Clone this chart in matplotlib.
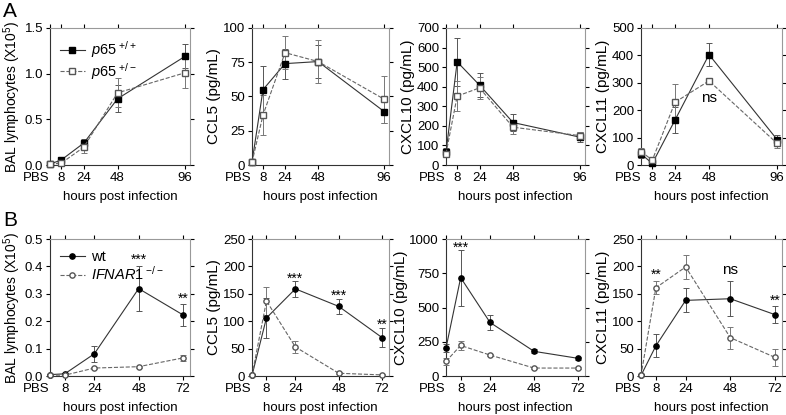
import matplotlib
matplotlib.use("Agg")
import matplotlib.pyplot as plt
from matplotlib.lines import Line2D
from matplotlib.ticker import FormatStrFormatter

plt.rcParams["font.family"] = ["Liberation Sans", "DejaVu Sans"]
plt.rcParams["mathtext.fontset"] = "custom"
plt.rcParams["mathtext.rm"] = "Liberation Sans"
plt.rcParams["mathtext.it"] = "Liberation Sans:italic"

# ---- data: row A (p65 +/+ vs p65 +/-) ----
hours_a = [0, 8, 24, 48, 96]
labels_a = ["PBS", "8", "24", "48", "96"]

bal_wt_a = [0.01, 0.055, 0.24, 0.725, 1.19]
bal_wt_a_err = [0.005, 0.015, 0.04, 0.15, 0.13]
bal_het_a = [0.01, 0.02, 0.195, 0.79, 1.01]
bal_het_a_err = [0.005, 0.01, 0.065, 0.16, 0.17]

ccl5_wt_a = [2, 55, 74, 75.5, 39]
ccl5_wt_a_err = [1, 17, 11, 12, 8]
ccl5_het_a = [2, 36.5, 82, 75.5, 48]
ccl5_het_a_err = [1, 14.5, 12, 16, 17]

cxcl10_wt_a = [65, 527, 408, 217, 142]
cxcl10_wt_a_err = [20, 121, 60, 45, 25]
cxcl10_het_a = [58, 352, 394, 193, 150]
cxcl10_het_a_err = [15, 78, 55, 35, 20]

cxcl11_wt_a = [40, 6, 164, 403, 93]
cxcl11_wt_a_err = [15, 5, 49, 42, 16]
cxcl11_het_a = [49, 18, 229, 307, 79]
cxcl11_het_a_err = [12, 6, 65, 11, 17]

# ---- data: row B (wt vs IFNAR1 -/-) ----
hours_b = [0, 8, 24, 48, 72]
labels_b = ["PBS", "8", "24", "48", "72"]

bal_wt_b = [0.005, 0.008, 0.081, 0.319, 0.223]
bal_wt_b_err = [0.002, 0.003, 0.029, 0.083, 0.041]
bal_ko_b = [0.003, 0.003, 0.029, 0.034, 0.066]
bal_ko_b_err = [0.001, 0.001, 0.004, 0.004, 0.012]

ccl5_wt_b = [1, 106, 159, 127, 70]
ccl5_wt_b_err = [1, 36, 15, 14, 17]
ccl5_ko_b = [1, 137, 53, 5, 2]
ccl5_ko_b_err = [1, 25, 11, 2, 1]

cxcl10_wt_b = [204, 718, 391, 180, 129]
cxcl10_wt_b_err = [30, 205, 52, 15, 10]
cxcl10_ko_b = [107, 223, 153, 58, 58]
cxcl10_ko_b_err = [28, 30, 10, 5, 5]

cxcl11_wt_b = [1, 55, 138, 141, 112]
cxcl11_wt_b_err = [1, 21, 22, 32, 16]
cxcl11_ko_b = [1, 161, 199, 70, 34]
cxcl11_ko_b_err = [1, 12, 22, 20, 15]

# annotations: (x, y, text)
notes = {
    (0, 3): [(48, 245, "ns")],
    (1, 0): [(48, 0.425, "***"), (72, 0.28, "**")],
    (1, 1): [(24, 178, "***"), (48, 146, "***"), (72, 94, "**")],
    (1, 2): [(8, 935, "***")],
    (1, 3): [(8, 184, "**"), (48, 194, "ns"), (72, 138, "**")],
}

W, H = 786, 415
lefts = [50, 252, 446, 641]
widths = [140, 137, 139, 141]
tops = [28, 239]
ax_h = 137

GRAY = "#999999"


def make_ax(fig, row, col):
    x0 = lefts[col] / W
    y0 = (H - tops[row] - ax_h) / H
    return fig.add_axes([x0, y0, widths[col] / W, ax_h / H])


def style(ax, xs, xlabels, xmax, ymax, ystep, ylabel, fmt=None):
    ax.set_xlim(0, xmax)
    ax.set_ylim(0, ymax)
    ax.set_xticks(xs)
    ax.set_xticklabels(xlabels, fontsize=9.5)
    ax.get_xticklabels()[0].set_ha("right")
    ax.xaxis.get_major_ticks()[0].tick1line.set_visible(False)
    ax.xaxis.get_major_ticks()[0].tick2line.set_visible(False)
    n = int(round(ymax / ystep))
    ax.set_yticks([ystep * i for i in range(n + 1)])
    if fmt:
        ax.yaxis.set_major_formatter(FormatStrFormatter(fmt))
    ax.tick_params(axis="both", direction="out", length=3, width=0.8,
                   labelsize=9.5, pad=2, top=True, right=True)
    for t in ax.xaxis.get_major_ticks() + ax.yaxis.get_major_ticks():
        t.tick2line.set_color(GRAY)
    for s in ("top", "right"):
        ax.spines[s].set_color(GRAY)
    for s in ("left", "bottom"):
        ax.spines[s].set_color("#333333")
    for s in ax.spines.values():
        s.set_linewidth(0.8)
    fs = 10 if ylabel.startswith("BAL") else 11
    ax.set_ylabel(ylabel, fontsize=fs, labelpad=1)
    ax.set_xlabel("hours post infection", fontsize=9.5, labelpad=5)


def plot_pair(ax, xs, y1, e1, y2, e2, marker, ms):
    ax.errorbar(xs, y1, yerr=e1, fmt="-", marker=marker, ms=ms, color="#333333",
                mfc="black", mec="black", lw=0.8, ecolor="#555555", elinewidth=0.7,
                capsize=2.5, capthick=0.7, clip_on=False, zorder=3)
    ax.errorbar(xs, y2, yerr=e2, fmt="--", marker=marker, ms=ms, color="#666666",
                mfc="white", mec="#555555", lw=0.8, ecolor="#777777", elinewidth=0.7,
                capsize=2.5, capthick=0.7, clip_on=False, zorder=3)


def add_legend(ax, marker, ms, lab1, lab2):
    h1 = Line2D([], [], ls="-", marker=marker, ms=ms, color="#333333",
                mfc="black", mec="black", lw=0.8)
    h2 = Line2D([], [], ls="--", marker=marker, ms=ms, color="#666666",
                mfc="white", mec="#555555", lw=0.8)
    ax.legend([h1, h2], [lab1, lab2], loc="upper left", frameon=False, fontsize=10.5,
              handlelength=1.7, handletextpad=0.4, labelspacing=0.05,
              borderaxespad=0.0, bbox_to_anchor=(0.03, 0.96))


fig = plt.figure(figsize=(W / 100, H / 100), dpi=100)

row_a = [
    (bal_wt_a, bal_wt_a_err, bal_het_a, bal_het_a_err, 1.5, 0.5, r"BAL lymphocytes (X10$^5$)", "%.1f"),
    (ccl5_wt_a, ccl5_wt_a_err, ccl5_het_a, ccl5_het_a_err, 100, 25, "CCL5 (pg/mL)", None),
    (cxcl10_wt_a, cxcl10_wt_a_err, cxcl10_het_a, cxcl10_het_a_err, 700, 100, "CXCL10 (pg/mL)", None),
    (cxcl11_wt_a, cxcl11_wt_a_err, cxcl11_het_a, cxcl11_het_a_err, 500, 100, "CXCL11 (pg/mL)", None),
]
row_b = [
    (bal_wt_b, bal_wt_b_err, bal_ko_b, bal_ko_b_err, 0.5, 0.1, r"BAL lymphocytes (X10$^5$)", "%.1f"),
    (ccl5_wt_b, ccl5_wt_b_err, ccl5_ko_b, ccl5_ko_b_err, 250, 50, "CCL5 (pg/mL)", None),
    (cxcl10_wt_b, cxcl10_wt_b_err, cxcl10_ko_b, cxcl10_ko_b_err, 1000, 250, "CXCL10 (pg/mL)", None),
    (cxcl11_wt_b, cxcl11_wt_b_err, cxcl11_ko_b, cxcl11_ko_b_err, 250, 50, "CXCL11 (pg/mL)", None),
]

for row, (specs, xs, xl, xmax, marker, ms, labs) in enumerate([
    (row_a, hours_a, labels_a, 99.5, "s", 4.2,
     (r"$\mathit{p65}^{\ \mathrm{+/+}}$", r"$\mathit{p65}^{\ \mathrm{+/-}}$")),
    (row_b, hours_b, labels_b, 75.8, "o", 3.8,
     ("wt", r"$\mathit{IFNAR1}^{\ \mathrm{-/-}}$")),
]):
    for col, (y1, e1, y2, e2, ymax, ystep, ylab, fmt) in enumerate(specs):
        ax = make_ax(fig, row, col)
        plot_pair(ax, xs, y1, e1, y2, e2, marker, ms)
        style(ax, xs, xl, xmax, ymax, ystep, ylab, fmt)
        if col == 0:
            add_legend(ax, marker, ms, *labs)
        for (x, y, txt) in notes.get((row, col), []):
            fs = 11 if txt == "ns" else 10
            ax.text(x, y, txt, ha="center", va="center", fontsize=fs)

fig.text(3 / W, 1 - 2 / H, "A", fontsize=15, va="top", ha="left")
fig.text(3 / W, 1 - 211 / H, "B", fontsize=15, va="top", ha="left")

fig.savefig("out.png", dpi=100)
